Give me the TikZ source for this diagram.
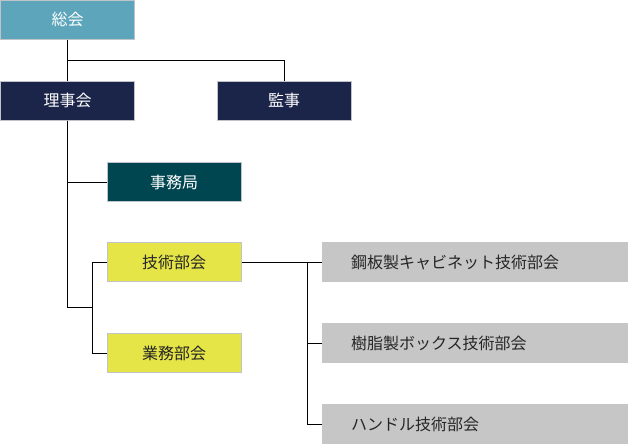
\documentclass[tikz,border=0pt]{standalone}
\usepackage{fontspec}
\newfontfamily\jpfont{Noto Sans CJK JP}
\usetikzlibrary{positioning}
\definecolor{soukaiblue}{HTML}{5CA5BA}
\definecolor{navy}{HTML}{1B2449}
\definecolor{deepteal}{HTML}{004651}
\definecolor{bukaiyellow}{HTML}{E5E548}
\definecolor{subgray}{HTML}{C6C6C6}
\definecolor{edgegray}{HTML}{C0C4C8}
\tikzset{
  orgbox/.style={draw=edgegray,line width=1pt,minimum width=134pt,minimum height=39pt,
    inner sep=0pt,font=\jpfont\fontsize{16}{19}\selectfont},
  subbox/.style={fill=subgray,minimum width=306pt,minimum height=40pt,text width=248pt,
    align=left,inner sep=0pt,text=black!85,font=\jpfont\fontsize{16}{19}\selectfont},
  link/.style={line width=1pt,black}
}

\begin{document}
\begin{tikzpicture}[x=1pt,y=-1pt]
  \useasboundingbox (0,0) rectangle (628,445);
  % top level
  \node[orgbox,fill=soukaiblue,text=white] (soukai) at (67.5,19.5) {総会};
  \node[orgbox,fill=navy,text=white] (rijikai) at (67.5,100.5) {理事会};
  \node[orgbox,fill=navy,text=white] (kanji) at (284,100.5) {監事};
  % under the board
  \node[orgbox,fill=deepteal,text=white] (jimukyoku) at (174,182) {事務局};
  \node[orgbox,fill=bukaiyellow,text=black!85] (gijutsu) at (174,262) {技術部会};
  \node[orgbox,fill=bukaiyellow,text=black!85] (gyomu) at (174,353) {業務部会};
  % technical sections
  \node[subbox] (kouban) at (475,262) {鋼板製キャビネット技術部会};
  \node[subbox] (jushi) at (475,343) {樹脂製ボックス技術部会};
  \node[subbox] (handle) at (475,424) {ハンドル技術部会};
  % joints
  \coordinate (j1) at (67.5,60.5);
  \coordinate (j2) at (92,307);
  \coordinate (j3) at (307,262);
  % connectors
  \draw[link] (soukai) -- (rijikai);
  \draw[link] (j1) -| (kanji);
  \draw[link] (rijikai.south) |- (jimukyoku.west);
  \draw[link] (rijikai.south) |- (j2);
  \draw[link] (gijutsu.west) -| (j2);
  \draw[link] (gyomu.west) -| (j2);
  \draw[link] (gijutsu.east) -- (kouban.west);
  \draw[link] (jushi.west) -| (j3);
  \draw[link] (handle.west) -| (j3);
\end{tikzpicture}
\end{document}
